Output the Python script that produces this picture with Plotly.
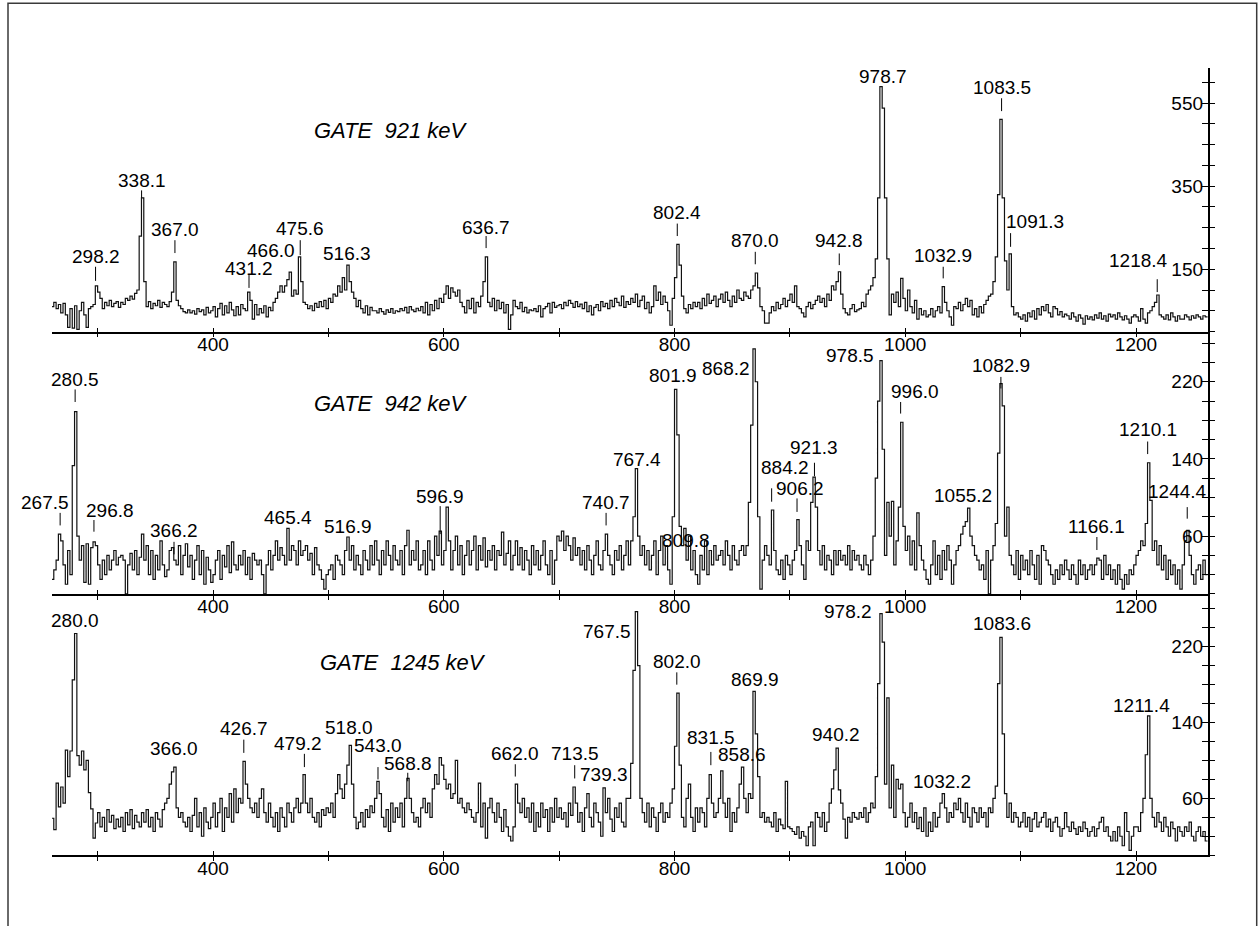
import numpy as np
import plotly.graph_objects as go

# ---- spectra: 2 keV bins starting at 260 keV ----
BIN_START = 260
BIN_WIDTH = 2

counts_921 = [
    60, 70, 55, 65, 45, 68, 40, 10, 55, 8,
    62, 5, 50, 70, 40, 10, 55, 60, 65, 110,
    95, 80, 55, 70, 62, 75, 60, 68, 72, 58,
    70, 65, 80, 75, 85, 78, 92, 100, 230, 322,
    120, 60, 72, 55, 68, 62, 75, 58, 70, 65,
    60, 72, 95, 168, 75, 62, 55, 48, 45, 52,
    45, 50, 42, 55, 48, 52, 40, 58, 45, 50,
    60, 35, 55, 68, 40, 62, 45, 70, 52, 38,
    60, 40, 65, 55, 50, 95, 75, 30, 65, 40,
    55, 45, 62, 35, 58, 50, 70, 80, 95, 110,
    95, 110, 125, 143, 85, 100, 90, 180, 120, 70,
    65, 55, 62, 50, 68, 58, 72, 60, 75, 55,
    80, 70, 90, 85, 110, 95, 130, 100, 160, 120,
    95, 80, 60, 75, 55, 45, 62, 40, 58, 50,
    50, 45, 55, 48, 42, 52, 46, 55, 44, 50,
    48, 55, 50, 58, 45, 60, 52, 48, 56, 50,
    60, 45, 70, 40, 65, 50, 75, 55, 80, 70,
    90, 110, 80, 105, 95, 85, 100, 70, 60, 45,
    75, 55, 80, 45, 70, 60, 85, 120, 180, 70,
    60, 80, 50, 75, 55, 70, 45, 65, 5, 40,
    75, 60, 55, 70, 48, 58, 45, 52, 50, 55,
    48, 62, 35, 55, 60, 68, 45, 70, 58, 62,
    65, 55, 70, 62, 75, 68, 58, 72, 60, 66,
    55, 70, 48, 62, 40, 58, 65, 50, 72, 60,
    68, 55, 75, 60, 80, 70, 62, 85, 58, 72,
    65, 80, 70, 90, 60, 75, 85, 55, 70, 45,
    60, 110, 75, 95, 65, 85, 70, 50, 15, 80,
    130, 210, 160, 85, 55, 45, 65, 55, 70, 60,
    70, 55, 80, 62, 90, 68, 75, 85, 60, 78,
    90, 70, 95, 75, 60, 85, 70, 100, 80, 75,
    95, 85, 80, 100, 110, 141, 105, 60, 50, 20,
    20, 45, 60, 50, 70, 55, 65, 80, 60, 75,
    90, 70, 110, 60, 55, 45, 35, 60, 70, 55,
    65, 75, 85, 70, 80, 60, 90, 75, 110, 100,
    120, 144, 90, 55, 45, 40, 55, 65, 48, 52,
    55, 70, 60, 90, 100, 110, 130, 175, 322, 590,
    538, 322, 175, 40, 90, 70, 95, 60, 128, 80,
    50, 100, 60, 45, 75, 30, 55, 40, 50, 35,
    40, 55, 35, 50, 60, 45, 108, 70, 50, 35,
    15, 60, 55, 70, 50, 65, 80, 60, 75, 40,
    55, 35, 60, 45, 65, 75, 85, 90, 120, 180,
    330, 511, 322, 170, 100, 187, 60, 40, 45, 35,
    30, 40, 25, 45, 35, 50, 30, 55, 40, 60,
    50, 65, 45, 35, 60, 55, 40, 48, 35, 42,
    38, 30, 45, 35, 25, 40, 32, 18, 38, 30,
    35, 28, 40, 32, 45, 30, 38, 25, 42, 35,
    40, 30, 45, 35, 28, 38, 30, 20, 35, 40,
    35, 25, 55, 30, 20, 45, 50, 60, 70, 88,
    40, 35, 30, 40, 28, 45, 35, 25, 38, 30,
    30, 40, 35, 28, 38, 32, 40, 35, 30, 38, 35,
]

counts_942 = [
    15, 25, 35, 62, 55, 30, 10, 45, 20, 133,
    189, 60, 35, 50, 12, 52, 10, 48, 54, 50,
    30, 15, 35, 20, 40, 25, 35, 45, 30, 38,
    40, 35, 0, 30, 42, 25, 45, 20, 38, 62,
    35, 50, 20, 45, 15, 40, 25, 55, 30, 18,
    25, 45, 48, 35, 30, 50, 20, 40, 52, 28,
    40, 15, 35, 50, 20, 45, 10, 38, 25, 12,
    20, 35, 45, 15, 40, 28, 50, 22, 54, 30,
    25, 40, 30, 45, 20, 38, 15, 42, 35, 30,
    35, 20, 0, 30, 45, 25, 40, 55, 35, 48,
    40, 30, 68, 35, 50, 45, 30, 55, 40, 45,
    50, 35, 42, 20, 48, 30, 25, 15, 5, 20,
    25, 30, 15, 40, 35, 30, 20, 45, 59, 35,
    50, 25, 40, 30, 20, 45, 35, 25, 50, 30,
    55, 35, 20, 45, 30, 55, 40, 25, 50, 35,
    30, 45, 20, 50, 66, 30, 45, 35, 55, 25,
    30, 45, 20, 55, 35, 25, 60, 40, 65, 30,
    45, 90, 55, 25, 45, 60, 30, 50, 20, 40,
    55, 30, 45, 60, 25, 50, 35, 58, 28, 45,
    35, 50, 25, 45, 40, 64, 30, 42, 55, 25,
    40, 55, 30, 48, 25, 45, 35, 20, 50, 30,
    45, 25, 40, 55, 30, 20, 45, 10, 35, 60,
    55, 65, 45, 60, 50, 35, 58, 40, 48, 30,
    45, 25, 50, 35, 20, 40, 55, 30, 25, 45,
    62, 40, 30, 20, 45, 35, 50, 25, 40, 55,
    30, 55, 80, 130, 60, 40, 50, 30, 45, 25,
    40, 55, 20, 45, 60, 30, 50, 25, 10, 80,
    212, 165, 70, 50, 68, 35, 60, 25, 45, 20,
    10, 40, 25, 55, 20, 45, 30, 50, 35, 40,
    45, 30, 55, 40, 25, 50, 35, 30, 45, 50,
    40, 50, 95, 175, 254, 220, 80, 5, 35, 50,
    40, 30, 87, 45, 25, 20, 35, 15, 40, 30,
    20, 35, 45, 77, 50, 30, 15, 55, 45, 95,
    121, 90, 45, 30, 50, 25, 40, 35, 20, 45,
    30, 45, 35, 40, 30, 50, 25, 45, 35, 40,
    30, 25, 40, 30, 20, 35, 60, 120, 200, 242,
    150, 40, 95, 60, 96, 30, 55, 90, 178, 70,
    45, 60, 30, 55, 25, 84, 50, 35, 25, 15,
    10, 30, 55, 20, 40, 15, 45, 25, 50, 35,
    10, 30, 45, 50, 62, 70, 75, 89, 60, 50,
    40, 35, 25, 30, 15, 45, 0, 35, 50, 73,
    146, 218, 195, 60, 90, 40, 30, 20, 45, 15,
    40, 25, 35, 20, 45, 30, 15, 40, 10, 50,
    45, 35, 30, 20, 10, 25, 15, 30, 20, 35,
    25, 15, 30, 20, 10, 35, 20, 30, 15, 25,
    30, 20, 30, 37, 35, 15, 40, 20, 30, 15,
    25, 10, 30, 15, 5, 20, 10, 25, 20, 30,
    40, 45, 55, 50, 73, 136, 97, 45, 55, 30,
    50, 25, 40, 15, 35, 20, 30, 10, 25, 5,
    30, 55, 66, 40, 20, 10, 25, 30, 15, 35, 20,
]

counts_1245 = [
    39, 27, 76, 51, 72, 55, 111, 83, 110, 185,
    234, 105, 95, 110, 90, 100, 66, 49, 18, 34,
    45, 30, 40, 25, 48, 35, 42, 28, 38, 30,
    40, 25, 45, 32, 48, 28, 42, 35, 30, 45,
    35, 48, 30, 40, 25, 45, 38, 30, 48, 55,
    60, 75, 88, 93, 50, 40, 45, 35, 30, 40,
    25, 42, 60, 30, 45, 20, 50, 35, 28, 40,
    55, 30, 45, 60, 25, 50, 40, 65, 35, 70,
    45, 60, 55, 99, 75, 60, 50, 45, 55, 40,
    60, 70, 45, 35, 55, 40, 30, 45, 25, 50,
    40, 30, 55, 45, 35, 50, 60, 45, 55, 85,
    55, 45, 60, 40, 35, 45, 30, 48, 42, 50,
    45, 55, 40, 65, 85, 70, 60, 75, 95, 116,
    75, 40, 28, 35, 45, 30, 48, 40, 52, 45,
    60, 78, 65, 40, 30, 48, 25, 55, 35, 50,
    40, 55, 30, 60, 81, 60, 45, 35, 40, 30,
    50, 60, 45, 55, 40, 70, 85, 75, 103, 95,
    80, 70, 75, 60, 65, 100, 55, 60, 50, 45,
    55, 48, 40, 35, 45, 76, 30, 55, 18, 50,
    60, 45, 35, 55, 40, 25, 48, 30, 20, 15,
    30, 75, 55, 45, 60, 40, 50, 35, 55, 25,
    45, 30, 55, 40, 48, 25, 50, 35, 60, 40,
    50, 38, 45, 30, 55, 42, 72, 55, 35, 45,
    25, 50, 65, 40, 30, 55, 45, 35, 20, 71,
    45, 60, 38, 25, 50, 40, 55, 35, 30, 60,
    60, 97, 195, 257, 200, 60, 45, 35, 55, 30,
    50, 40, 25, 45, 55, 35, 45, 40, 55, 70,
    115, 171, 95, 40, 30, 60, 75, 40, 25, 50,
    35, 50, 45, 30, 60, 85, 55, 40, 45, 60,
    89, 55, 40, 60, 25, 45, 35, 50, 75, 93,
    60, 45, 65, 60, 173, 128, 83, 40, 45, 35,
    40, 35, 30, 45, 25, 38, 32, 28, 78, 30,
    28, 25, 22, 30, 18, 25, 20, 10, 30, 35,
    10, 45, 40, 30, 45, 25, 35, 55, 70, 90,
    113, 69, 55, 38, 18, 40, 35, 45, 40, 38,
    45, 40, 50, 35, 45, 55, 50, 83, 181, 255,
    225, 75, 166, 50, 95, 40, 80, 70, 75, 45,
    30, 40, 55, 35, 45, 28, 40, 25, 50, 20,
    35, 25, 45, 30, 40, 55, 65, 50, 35, 45,
    40, 55, 48, 60, 45, 35, 55, 40, 30, 50,
    45, 35, 50, 40, 45, 30, 50, 45, 60, 73,
    181, 230, 128, 65, 40, 55, 35, 45, 40, 30,
    35, 45, 30, 40, 25, 38, 45, 30, 35, 40,
    45, 30, 38, 25, 35, 40, 30, 20, 28, 45,
    30, 25, 35, 28, 22, 30, 25, 35, 28, 20,
    25, 30, 20, 28, 35, 40, 25, 30, 20, 15,
    25, 15, 30, 20, 10, 45, 25, 5, 20, 30,
    30, 25, 45, 60, 106, 147, 60, 40, 30, 45,
    35, 25, 40, 30, 20, 35, 28, 15, 30, 25,
    20, 30, 25, 35, 20, 15, 25, 30, 20, 25, 15,
]

# ---- identified peak energies (keV) ----
peaks_921 = [298.2, 338.1, 367.0, 431.2, 466.0, 475.6, 516.3, 636.7, 802.4,
             870.0, 942.8, 978.7, 1032.9, 1083.5, 1091.3, 1218.4]
peaks_942 = [267.5, 280.5, 296.8, 366.2, 465.4, 516.9, 596.9, 740.7, 767.4,
             801.9, 809.8, 868.2, 884.2, 906.2, 921.3, 978.5, 996.0, 1055.2,
             1082.9, 1166.1, 1210.1, 1244.4]
peaks_1245 = [280.0, 366.0, 426.7, 479.2, 518.0, 543.0, 568.8, 662.0, 713.5,
              739.3, 767.5, 802.0, 831.5, 858.6, 869.9, 940.2, 978.2, 1032.2,
              1083.6, 1211.4]

gate_labels = ["GATE\u00a0\u00a0921 keV", "GATE\u00a0\u00a0942 keV", "GATE\u00a0\u00a01245 keV"]

# ---- label placement: (x shift px, text level, tick bottom, tick top) in counts ----
place_921 = [(0, 180, 122, 156), (0, 365, 322, 340), (0, 245, 189, 220), (0, 153, 105, 136),
             (-18, 196, None, None), (0, 249, 184, 220), (0, 187, None, None),
             (0, 251, 201, 230), (0, 287, 230, 260), (0, 219, 162, 192), (0, 219, 160, 188),
             (2, 614, None, None), (0, 182, 128, 156), (0, 588, 531, 562), (24, 264, 204, 237),
             (-19, 170, 95, 126)]
place_942 = [(-15, 94.6, 71, 84), (0, 222.5, 199, 212), (16, 87, 64.5, 76.6), (0, 65.5, 41, 54),
             (0, 79.4, None, None), (0, 69.7, None, None), (0, 100.8, 62, 91), (0, 94.6, 71, 84),
             (0, 139.5, None, None), (-4, 226, None, None), (0, 55, None, None),
             (-27, 234, None, None), (13, 131, 95.6, 109.5), (3, 109.5, 85, 99),
             (0, 152, 122, 136), (-30, 247.7, None, None), (14, 210, 187, 199),
             (-6, 101.8, None, None), (0, 237, 213, 225), (0, 69.7, 45.5, 59),
             (0, 170, 145, 158), (-10, 106, 78, 90)]
place_1245 = [(0, 248, None, None), (0, 113, None, None), (0, 134, 108, 122), (-6, 118, 93, 107),
              (0, 135, None, None), (0, 116, 80, 93), (0, 97, 78, 87), (0, 107.5, 83, 96),
              (0, 107, 81, 95), (0, 85, None, None), (-30, 236, None, None), (0, 204, 180, 193),
              (0, 124, 95, 109), (0, 106, None, None), (0, 185.6, None, None),
              (0, 127, None, None), (-32, 257, None, None), (0, 77.6, None, None),
              (0, 245, None, None), (-8, 158.5, None, None)]

# ---- page geometry ----
W, H = 1260, 926
FONT = "Arial, 'Liberation Sans', sans-serif"
X_DOMAIN = [52 / W, 1208 / W]
X_RANGE = [260.45, 1262.4]

panels = [
    dict(counts=counts_921, peaks=peaks_921, place=place_921, gate=gate_labels[0],
         gate_xy=(312, 130), px=(68, 331.5), ytop=634.9, tick0=150, dtick=200, minor=50),
    dict(counts=counts_942, peaks=peaks_942, place=place_942, gate=gate_labels[1],
         gate_xy=(312, 403), px=(331.5, 593.9), ytop=272.1, tick0=60, dtick=80, minor=20),
    dict(counts=counts_1245, peaks=peaks_1245, place=place_1245, gate=gate_labels[2],
         gate_xy=(318, 662), px=(593.9, 855.2), ytop=275.8, tick0=60, dtick=80, minor=20),
]

fig = go.Figure()
layout = dict(width=W, height=H, autosize=False, margin=dict(l=0, r=0, t=0, b=0),
              paper_bgcolor="white", plot_bgcolor="white", showlegend=False,
              font=dict(family=FONT, size=19, color="black"))
annotations = []

tickfont = dict(family=FONT, size=19, color="black")

for i, p in enumerate(panels, start=1):
    s = "" if i == 1 else str(i)
    o = str(i + 3)
    dom = [1 - p["px"][1] / H, 1 - p["px"][0] / H]

    counts = p["counts"]
    edges = BIN_START + BIN_WIDTH * np.arange(len(counts) + 1)
    fig.add_trace(go.Scatter(x=edges, y=counts + [counts[-1]], mode="lines",
                             line=dict(shape="hv", color="#111111", width=1.2),
                             xaxis="x" + s, yaxis="y" + s, hoverinfo="skip"))

    # short tick marks pointing at the peaks
    mx, my = [], []
    for e, (dx, ty, lo, hi) in zip(p["peaks"], p["place"]):
        annotations.append(dict(x=e, y=ty, xref="x" + s, yref="y" + s, text=f"{e:.1f}",
                                showarrow=False, xshift=dx, xanchor="center", yanchor="middle",
                                font=dict(family=FONT, size=19, color="black")))
        if lo is not None:
            mx += [e, e, None]
            my += [lo, hi, None]
    fig.add_trace(go.Scatter(x=mx, y=my, mode="lines", line=dict(color="black", width=1),
                             xaxis="x" + s, yaxis="y" + s, hoverinfo="skip"))
    # empty trace that carries the crossing tick axes
    fig.add_trace(go.Scatter(x=[None], y=[None], mode="lines",
                             xaxis="x" + o, yaxis="y" + o, hoverinfo="skip"))

    gx, gy = p["gate_xy"]
    annotations.append(dict(x=gx / W, y=1 - gy / H, xref="paper", yref="paper",
                            text="<i>" + p["gate"] + "</i>", showarrow=False,
                            xanchor="left", yanchor="middle",
                            font=dict(family=FONT, size=22, color="black")))

    layout["xaxis" + s] = dict(domain=X_DOMAIN, range=X_RANGE, anchor="y" + s,
                               showline=True, linecolor="black", linewidth=1.5,
                               ticks="outside", ticklen=4, tickwidth=1.2, tickcolor="black",
                               tick0=0, dtick=200,
                               minor=dict(ticks="outside", ticklen=4, tickwidth=1.2,
                                          tickcolor="black", tick0=0, dtick=100),
                               showgrid=False, zeroline=False, tickfont=tickfont,
                               ticklabelstandoff=-9)
    layout["xaxis" + o] = dict(overlaying="x" + s, anchor="y" + o, range=X_RANGE,
                               showline=False, showgrid=False, zeroline=False,
                               showticklabels=False, ticks="inside", ticklen=4, tickwidth=1.2,
                               tickcolor="black", tick0=0, dtick=200,
                               minor=dict(ticks="inside", ticklen=4, tickwidth=1.2,
                                          tickcolor="black", tick0=0, dtick=100))
    layout["yaxis" + s] = dict(domain=dom, range=[0, p["ytop"]], anchor="x" + s, side="right",
                               showline=True, linecolor="black", linewidth=1.5,
                               ticks="inside", ticklen=6, tickwidth=1.2, tickcolor="black",
                               tick0=p["tick0"], dtick=p["dtick"],
                               minor=dict(ticks="inside", ticklen=6, tickwidth=1.2,
                                          tickcolor="black", tick0=0, dtick=p["minor"]),
                               ticklabelposition="inside", showgrid=False, zeroline=False,
                               tickfont=tickfont)
    layout["yaxis" + o] = dict(overlaying="y" + s, anchor="x" + o, side="right",
                               range=[0, p["ytop"]], showline=False, showgrid=False,
                               zeroline=False, showticklabels=False,
                               ticks="outside", ticklen=6, tickwidth=1.2, tickcolor="black",
                               tick0=p["tick0"], dtick=p["dtick"],
                               minor=dict(ticks="outside", ticklen=6, tickwidth=1.2,
                                          tickcolor="black", tick0=0, dtick=p["minor"]))

layout["annotations"] = annotations
layout["shapes"] = [dict(type="rect", xref="paper", yref="paper",
                         x0=8 / W, x1=1256.7 / W, y0=-0.02, y1=1 - 3.3 / H,
                         line=dict(color="#3a3a3a", width=1.5), fillcolor="rgba(0,0,0,0)")]
fig.update_layout(**layout)

fig.write_html("out.html")
